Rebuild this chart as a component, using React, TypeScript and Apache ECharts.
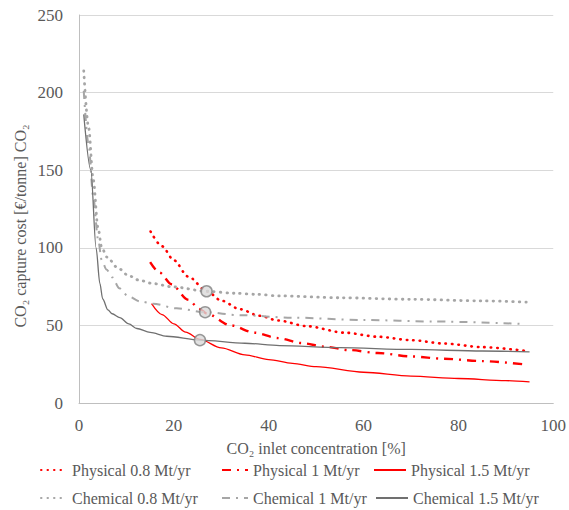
import React, { useEffect, useRef } from "react";
import * as echarts from "echarts";

const xTicks = [0, 20, 40, 60, 80, 100];
const yTicks = [0, 50, 100, 150, 200, 250];

const seriesNames = [
  "Physical 0.8 Mt/yr",
  "Physical 1 Mt/yr",
  "Physical 1.5 Mt/yr",
  "Chemical 0.8 Mt/yr",
  "Chemical 1 Mt/yr",
  "Chemical 1.5 Mt/yr",
];

const physical08 = [
  [15.1, 110.5], [17.5, 101], [20, 92], [23, 81.5], [27, 72], [30, 66],
  [34, 60.4], [38, 56.2], [42, 53.2], [48, 49.5], [56, 45.3], [63, 42.7],
  [70, 40.5], [77, 38.3], [85, 36], [94.3, 33.5],
];
const physical1 = [
  [15, 90.8], [17, 84], [19.5, 76.5], [23, 66.5], [25.5, 60.5], [27, 57.5], [32, 50],
  [37, 45.3], [42, 41.8], [47, 38.6], [52, 36.2], [57, 34.1], [63, 32.2],
  [70, 30], [77, 28.5], [85, 27], [93.5, 25],
];
const physical15 = [
  [15.3, 64], [17.5, 57], [20, 51], [22.5, 45.7], [25.5, 41], [30, 35.5],
  [35, 31], [40, 28], [45, 25.5], [50, 23.4], [60, 19.8], [70, 17.3],
  [80, 15.8], [90, 14.4], [95, 13.6],
];
const chemical08 = [
  [1, 214], [2, 178], [3, 144], [4, 113], [4.8, 100], [5.9, 94], [8.2, 87],
  [10.5, 82], [12.8, 79], [15.5, 77], [19.8, 74.8], [26.9, 72], [33, 70.7],
  [37.4, 70], [42.3, 69], [55, 67.8], [70, 66.8], [85, 65.8], [94.3, 65],
];
const chemical1 = [
  [1, 201], [2, 167], [3, 133], [4, 106], [4.8, 92], [5.8, 86], [7, 81],
  [8.5, 74], [10.3, 69], [12.8, 65.5], [15.6, 64], [20.6, 61], [26.6, 58.5],
  [33.9, 56.6], [45, 55], [60, 53.5], [75, 52.5], [93.5, 51],
];
const chemical15 = [
  [1, 186], [2.5, 150], [3.6, 100], [4.4, 77], [5, 67], [6.1, 60], [7, 57.5],
  [8.6, 55], [10.5, 51], [12.2, 48], [15, 45.5], [18.5, 43], [25.5, 40.5],
  [35, 38.5], [42.3, 37], [55, 35.7], [70, 34.5], [85, 33.5], [95, 33],
];
const markerPoints = [
  [26.9, 72], [26.6, 58.5], [25.5, 40.5],
];

const FONT = "'Liberation Serif', 'Times New Roman', serif";
const TEXT = "#595959";
const RED = "#FF0000";
const GRAY = "#A6A6A6";
const DARK = "#707070";

export default function App() {
  const ref = useRef<HTMLDivElement>(null);
  useEffect(() => {
    if (!ref.current) return;
    const chart = echarts.init(ref.current, null, { renderer: "svg" });
    const lineBase = {
      type: "line",
      showSymbol: false,
      symbol: "none",
      smooth: 0.3,
      smoothMonotone: "x",
      z: 3,
    };
    const styles = [
      { color: RED, width: 2.6, type: [0.5, 6], cap: "round" },
      { color: RED, width: 2.4, type: [9, 6, 2, 6], cap: "butt" },
      { color: RED, width: 1.3, type: "solid" },
      { color: GRAY, width: 2.8, type: [0.5, 6], cap: "round" },
      { color: GRAY, width: 2, type: [8, 6, 2, 6], cap: "butt" },
      { color: DARK, width: 1.3, type: "solid" },
    ];
    const datas = [physical08, physical1, physical15, chemical08, chemical1, chemical15];
    const series: any[] = seriesNames.map((name, i) => ({
      ...lineBase,
      name,
      data: datas[i],
      lineStyle: styles[i],
      itemStyle: { color: styles[i].color },
    }));
    series.push({
      type: "scatter",
      name: "markers",
      data: markerPoints,
      symbol: "circle",
      symbolSize: 11,
      z: 5,
      itemStyle: { color: "#D9D9D9", borderColor: "#7F7F7F", borderWidth: 1.5 },
    });

    const legendPos = [
      { left: 40, top: 462, w: 26 },
      { left: 221, top: 462, w: 26 },
      { left: 373, top: 462, w: 32 },
      { left: 40, top: 490, w: 26 },
      { left: 221, top: 490, w: 26 },
      { left: 375, top: 490, w: 32 },
    ];
    const legend = seriesNames.map((name, i) => ({
      data: [name],
      left: legendPos[i].left,
      top: legendPos[i].top,
      itemWidth: legendPos[i].w,
      itemHeight: 10,
      padding: 0,
      selectedMode: false,
      itemStyle: { opacity: 0 },
      textStyle: { fontFamily: FONT, fontSize: 16, color: TEXT },
    }));

    chart.setOption({
      animation: false,
      backgroundColor: "#FFFFFF",
      grid: { left: 79, right: 15, top: 15, bottom: 107 },
      legend,
      xAxis: {
        type: "value",
        min: xTicks[0],
        max: xTicks[xTicks.length - 1],
        interval: 20,
        name: "CO₂ inlet concentration [%]",
        nameLocation: "middle",
        nameGap: 37,
        nameTextStyle: { fontFamily: FONT, fontSize: 16, color: TEXT },
        axisLine: { show: true, lineStyle: { color: "#BFBFBF", width: 1 } },
        axisTick: { show: false },
        splitLine: { show: false },
        axisLabel: { fontFamily: FONT, fontSize: 17, color: TEXT, margin: 14 },
      },
      yAxis: {
        type: "value",
        min: yTicks[0],
        max: yTicks[yTicks.length - 1],
        interval: 50,
        axisLine: { show: true, lineStyle: { color: "#BFBFBF", width: 1 } },
        axisTick: { show: false },
        splitLine: { show: true, lineStyle: { color: "#D9D9D9", width: 1 } },
        axisLabel: { fontFamily: FONT, fontSize: 17, color: TEXT, margin: 16 },
      },
      graphic: [
        {
          type: "text",
          x: 20,
          y: 226,
          rotation: Math.PI / 2,
          style: {
            text: "CO₂ capture cost [€/tonne] CO₂",
            fontFamily: FONT,
            fontSize: 16,
            fill: TEXT,
            textAlign: "center",
            textVerticalAlign: "middle",
          },
        },
      ],
      series,
    });
    return () => chart.dispose();
  }, []);
  return (
    <div
      ref={ref}
      style={{ position: "fixed", left: 0, top: 0, width: 569, height: 510 }}
    />
  );
}
